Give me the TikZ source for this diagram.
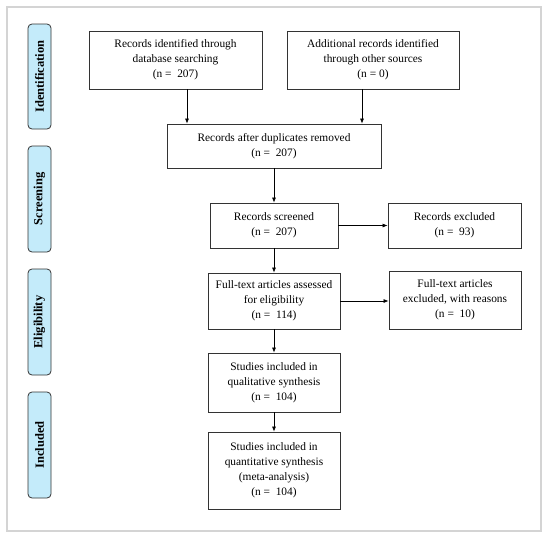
\documentclass[tikz,border=0pt]{standalone}
\usepackage{fontspec}
\setmainfont{Liberation Serif}
\usetikzlibrary{arrows.meta}
\definecolor{phasefill}{HTML}{C4EBFA}
\definecolor{framegray}{HTML}{D4D4D4}
\definecolor{boxline}{HTML}{333333}
\begin{document}
\begin{tikzpicture}[x=1pt,y=-1pt,
  flowbox/.style={draw=boxline,line width=0.8pt,fill=white,align=center,inner sep=0pt,
    font=\fontsize{11.4}{15}\selectfont},
  phase/.style={draw=boxline,line width=0.8pt,fill=phasefill,rounded corners=4pt,inner sep=0pt},
  phasetext/.style={rotate=90,font=\fontsize{12.5}{13}\selectfont\bfseries},
  arr/.style={-{Latex[length=5pt,width=4pt]},line width=0.7pt,draw=black}]
\useasboundingbox (0,0) rectangle (550,539);
\draw[framegray,line width=1.2pt] (7,7) rectangle (541,531);
% phase labels
\node[phase,minimum width=23,minimum height=105] (p1) at (39.5,76.5) {};
\node[phasetext] (t1) at (p1) {Identification};
\node[phase,minimum width=23,minimum height=106] (p2) at (39.5,199) {};
\node[phasetext] (t2) at (p2) {Screening};
\node[phase,minimum width=23,minimum height=106] (p3) at (39.5,322) {};
\node[phasetext] (t3) at (p3) {Eligibility};
\node[phase,minimum width=23,minimum height=106] (p4) at (39.5,445) {};
\node[phasetext] (t4) at (p4) {Included};
% boxes
\node[flowbox,minimum width=173,minimum height=58] (b1) at (175.5,60) {Records identified through\\database searching\\(n =\ \ 207)};
\node[flowbox,minimum width=172,minimum height=58] (b2) at (373,60) {Additional records identified\\through other sources\\(n = 0)};
\node[flowbox,minimum width=214,minimum height=44] (b3) at (274,146) {Records after duplicates removed\\(n =\ \ 207)};
\node[flowbox,minimum width=128,minimum height=45] (b4) at (274,225.5) {Records screened\\(n =\ \ 207)};
\node[flowbox,minimum width=133,minimum height=45] (b5) at (454.5,225.5) {Records excluded\\(n =\ \ 93)};
\node[flowbox,minimum width=132,minimum height=56] (b6) at (274,301) {Full-text articles assessed\\for eligibility\\(n =\ \ 114)};
\node[flowbox,minimum width=132,minimum height=58] (b7) at (455,300) {Full-text articles\\excluded, with reasons\\(n =\ \ 10)};
\node[flowbox,minimum width=132,minimum height=59] (b8) at (274,382.5) {Studies included in\\qualitative synthesis\\(n =\ \ 104)};
\node[flowbox,minimum width=132,minimum height=77] (b9) at (274,470.5) {Studies included in\\quantitative synthesis\\(meta-analysis)\\(n =\ \ 104)};
% connectors
\coordinate (xa) at (187,0);
\coordinate (xb) at (362,0);
\draw[arr] (b1.south -| xa) -- (b3.north -| xa);
\draw[arr] (b2.south -| xb) -- (b3.north -| xb);
\draw[arr] (b3) -- (b4);
\draw[arr] (b4) -- (b5);
\draw[arr] (b4) -- (b6);
\draw[arr] (b6.east) -- (b7.west |- b6.east);
\draw[arr] (b6) -- (b8);
\draw[arr] (b8) -- (b9);
\end{tikzpicture}
\end{document}
